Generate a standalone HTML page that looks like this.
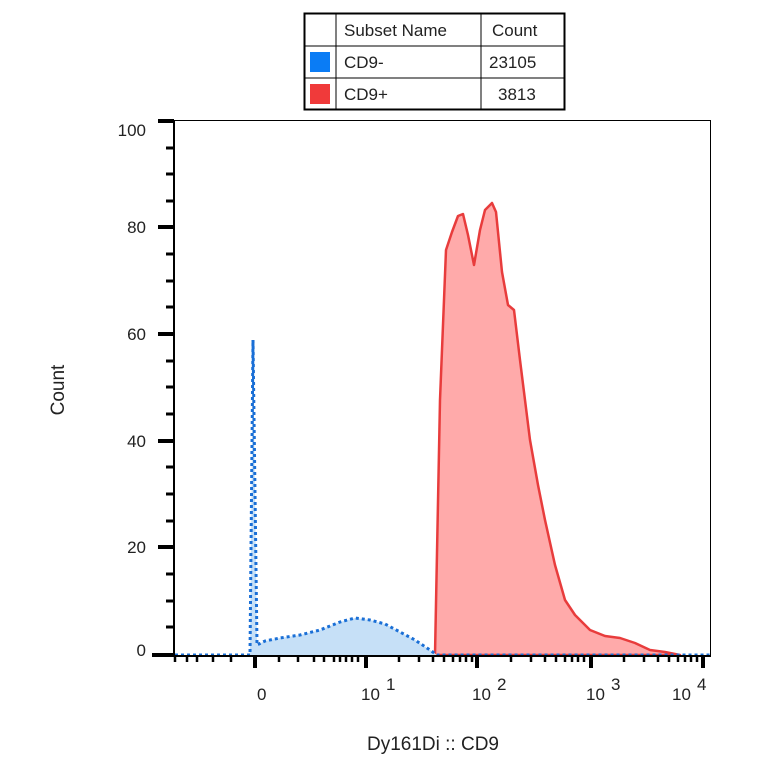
<!DOCTYPE html>
<html><head><style>
body{margin:0;background:#fff;}
svg text{font-family:"Liberation Sans",Arial,sans-serif;fill:#222;}
</style></head><body>
<svg width="764" height="764" xmlns="http://www.w3.org/2000/svg">
<!-- table -->
<g stroke="#000" fill="none">
<rect x="304.5" y="13.5" width="260" height="96" stroke-width="2"/>
<line x1="304" y1="46" x2="565" y2="46"/>
<line x1="304" y1="78" x2="565" y2="78"/>
<line x1="336" y1="13" x2="336" y2="110"/>
<line x1="481" y1="13" x2="481" y2="110"/>
</g>
<rect x="310" y="52" width="20" height="20" fill="#0a7cf5"/>
<rect x="310" y="84" width="20" height="20" fill="#f03a3a"/>
<g font-size="17">
<text x="344" y="36">Subset Name</text>
<text x="492" y="36">Count</text>
<text x="344" y="68">CD9-</text>
<text x="489" y="68">23105</text>
<text x="344" y="100">CD9+</text>
<text x="498" y="100">3813</text>
</g>
<!-- plot frame -->
<rect x="174.5" y="120.5" width="536" height="535" fill="none" stroke="#000" stroke-width="1"/>
<!-- series -->
<path d="M435,655 L440,400 L446,250 L452,232 L458,216 L463,214 L468,235 L474,265 L480,230 L485,210 L492,203 L496,212 L502,272 L508,305 L514,310 L520,360 L530,440 L538,485 L545,520 L555,565 L565,600 L575,615 L590,630 L605,636 L620,638 L635,643 L650,650 L665,652 L680,655 Z" fill="#ffaaaa" stroke="#e83c3c" stroke-width="2.5" stroke-linejoin="round"/>
<path d="M250,655 L253,340 L257,645 L265,641 L280,638 L300,635 L320,630 L340,622 L355,618 L370,620 L385,624 L400,632 L415,640 L430,650 L437,655 Z" fill="#c6e0f7"/>
<path d="M175,655 L250,655 L253,340 L257,645 L265,641 L280,638 L300,635 L320,630 L340,622 L355,618 L370,620 L385,624 L400,632 L415,640 L430,650 L437,655 L710,655" fill="none" stroke="#1a6fd6" stroke-width="3" stroke-dasharray="3,3"/>
<!-- y axis -->
<line x1="174" y1="120" x2="174" y2="656" stroke="#000" stroke-width="2"/>
<g stroke="#000">
<g stroke-width="4">
<line x1="158" y1="121" x2="174" y2="121"/><line x1="158" y1="227" x2="174" y2="227"/><line x1="158" y1="334" x2="174" y2="334"/><line x1="158" y1="441" x2="174" y2="441"/><line x1="158" y1="547" x2="174" y2="547"/><line x1="152" y1="655" x2="174" y2="655"/>
</g>
<g stroke-width="3">
<line x1="166" y1="148" x2="174" y2="148"/><line x1="166" y1="174" x2="174" y2="174"/><line x1="166" y1="201" x2="174" y2="201"/>
<line x1="166" y1="254" x2="174" y2="254"/><line x1="166" y1="281" x2="174" y2="281"/><line x1="166" y1="307" x2="174" y2="307"/>
<line x1="166" y1="361" x2="174" y2="361"/><line x1="166" y1="387" x2="174" y2="387"/><line x1="166" y1="414" x2="174" y2="414"/>
<line x1="166" y1="467" x2="174" y2="467"/><line x1="166" y1="494" x2="174" y2="494"/><line x1="166" y1="521" x2="174" y2="521"/>
<line x1="166" y1="574" x2="174" y2="574"/><line x1="166" y1="601" x2="174" y2="601"/><line x1="166" y1="627" x2="174" y2="627"/>
</g>
</g>
<g font-size="17" text-anchor="end">
<text x="146" y="136">100</text><text x="146" y="233">80</text><text x="146" y="340">60</text><text x="146" y="447">40</text><text x="146" y="553">20</text><text x="146" y="656">0</text>
</g>
<text x="64" y="390" font-size="19" text-anchor="middle" transform="rotate(-90 64 390)">Count</text>
<!-- x axis -->
<line x1="174" y1="656" x2="711" y2="656" stroke="#000" stroke-width="2"/>
<g stroke="#000" stroke-width="4">
<line x1="255" y1="656" x2="255" y2="668"/><line x1="366" y1="656" x2="366" y2="668"/><line x1="477" y1="656" x2="477" y2="668"/><line x1="591" y1="656" x2="591" y2="668"/><line x1="703" y1="656" x2="703" y2="668"/>
</g>
<g stroke="#000" stroke-width="2.5" id="minor">
<line x1="175" y1="656" x2="175" y2="662"/><line x1="187" y1="656" x2="187" y2="662"/><line x1="197" y1="656" x2="197" y2="662"/><line x1="213" y1="656" x2="213" y2="662"/><line x1="231" y1="656" x2="231" y2="662"/>
<line x1="279" y1="656" x2="279" y2="662"/><line x1="298" y1="656" x2="298" y2="662"/><line x1="314" y1="656" x2="314" y2="662"/><line x1="324" y1="656" x2="324" y2="662"/><line x1="334" y1="656" x2="334" y2="662"/><line x1="340" y1="656" x2="340" y2="662"/><line x1="346" y1="656" x2="346" y2="662"/><line x1="352" y1="656" x2="352" y2="662"/><line x1="358" y1="656" x2="358" y2="662"/>
</g>
<g stroke="#000" stroke-width="2.5">
<g id="dec"><line x1="399" y1="656" x2="399" y2="662"/><line x1="419" y1="656" x2="419" y2="662"/><line x1="433" y1="656" x2="433" y2="662"/><line x1="444" y1="656" x2="444" y2="662"/><line x1="453" y1="656" x2="453" y2="662"/><line x1="460" y1="656" x2="460" y2="662"/><line x1="466" y1="656" x2="466" y2="662"/><line x1="472" y1="656" x2="472" y2="662"/></g>
<use href="#dec" transform="translate(112,0)"/>
<use href="#dec" transform="translate(225,0)"/>
</g>
<g font-size="17">
<text x="257" y="700">0</text>
<text x="361" y="700">10</text><text x="386" y="690" font-size="17">1</text>
<text x="472" y="700">10</text><text x="497" y="690">2</text>
<text x="586" y="700">10</text><text x="611" y="690">3</text>
<text x="672" y="700">10</text><text x="697" y="690">4</text>
</g>
<text x="433" y="750" font-size="19" text-anchor="middle">Dy161Di :: CD9</text>
</svg>
</body></html>
